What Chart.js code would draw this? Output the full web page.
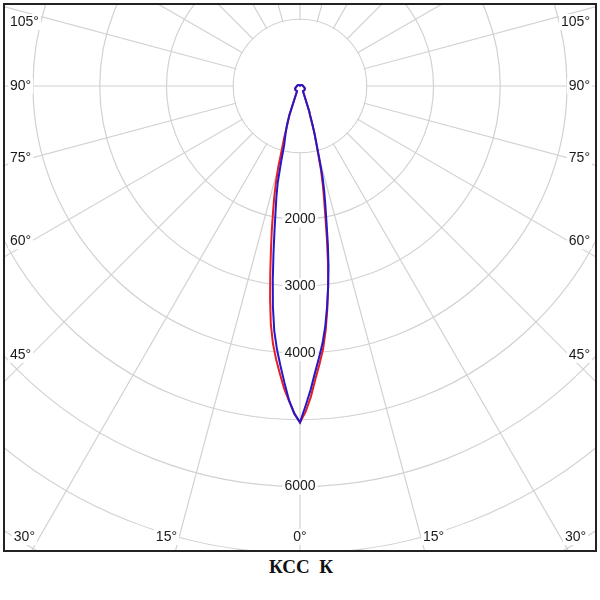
<!DOCTYPE html>
<html>
<head>
<meta charset="utf-8">
<script src="https://cdn.jsdelivr.net/npm/chart.js@4.4.0/dist/chart.umd.min.js"></script>
<style>
    html, body { margin: 0; padding: 0; background: #fff; }
    #frame { position: absolute; left: 3px; top: 3px; width: 590px; height: 545px; border: 2px solid #222; }
    #frame canvas { display: block; }
    #title { position: absolute; left: 0; top: 556px; width: 602px; text-align: center;
             font: bold 19px "Liberation Serif", "Times New Roman", serif; color: #111; white-space: pre; }
</style>
</head>
<body>
<div id="frame"><canvas id="kss" width="590" height="545"></canvas></div>
<div id="title">КСС  К</div>
<script>
// angles (degrees from the nadir) where the curves were read
const angle_deg = [0, 1, 2, 3, 4, 5, 6, 7, 8, 9, 10, 11, 12, 13, 14, 15, 16, 17, 18, 19, 20,
                   30, 40, 50, 60, 70, 80, 90, 100, 110, 120, 135, 150, 165, 180];

// luminous intensity, cd (red curve), left and right half
const c0_left  = [5040, 4900, 4720, 4540, 4320, 4110, 3880, 3590, 3220, 2850, 2510, 2220, 1950, 1720, 1490, 1260, 980, 810, 640, 530, 467,
                  90, 90, 90, 85, 70, 55, 45, 40, 35, 30, 20, 12, 8, 5];
const c0_right = [5040, 4880, 4660, 4400, 4180, 3960, 3680, 3360, 3030, 2680, 2320, 1990, 1740, 1520, 1300, 1040, 870, 740, 590, 460, 410,
                  90, 90, 90, 85, 70, 55, 45, 40, 35, 30, 20, 12, 8, 5];
// blue curve
const c90_left  = [5040, 4910, 4710, 4450, 4200, 3960, 3690, 3330, 2930, 2540, 2200, 1920, 1700, 1480, 1170, 910, 820, 730, 650, 560, 470,
                   90, 90, 90, 85, 70, 55, 45, 40, 35, 30, 20, 12, 8, 5];
const c90_right = [5040, 4790, 4555, 4300, 4080, 3870, 3620, 3330, 3030, 2730, 2400, 2080, 1830, 1610, 1390, 1110, 890, 740, 590, 460, 410,
                   90, 90, 90, 85, 70, 55, 45, 40, 35, 30, 20, 12, 8, 5];

const ring_labels = [2000, 3000, 4000, 6000];
const spoke_labels = [0, 15, 30, 45, 60, 75, 90, 105];

const center_x = 295, center_y = 81;    // pole inside the frame
const px_per_1000 = 66.75;
const r_max = 9000;
const grid_color = '#d2d2d2';
const label_font = '14px "Liberation Sans", Arial, sans-serif';

// one label per degree, the radar scale goes clockwise from the bottom
let labels = Array(360).fill(0).map((_, i) => i);

let build_series = function(left, right) {
    let out = Array(360).fill(null);
    angle_deg.forEach((a, i) => {
        out[a] = left[i];
        if (a > 0 && a < 180) out[360 - a] = right[i];
    });
    return out;
};

let draw_text = function(ctx, text, x, y, align) {
    let w = ctx.measureText(text).width;
    let left = align === 'left' ? x : align === 'right' ? x - w : x - w / 2;
    ctx.fillStyle = '#fff';
    ctx.fillRect(left - 2, y - 8, w + 4, 16);
    ctx.fillStyle = '#1a1a1a';
    ctx.textAlign = align;
    ctx.fillText(text, x, y);
};

const polar_labels = {
    id: 'polar_labels',
    beforeDatasetsDraw(chart) {
        let ctx = chart.ctx;
        let s = chart.scales.r;
        let cx = s.xCenter, cy = s.yCenter;
        let W = chart.width;
        ctx.save();
        // nothing inside the first ring
        ctx.fillStyle = '#fff';
        ctx.beginPath();
        ctx.arc(cx, cy, s.getDistanceFromCenterForValue(1000) - 0.7, 0, Math.PI * 2);
        ctx.fill();

        ctx.font = label_font;
        ctx.textBaseline = 'middle';
        ring_labels.forEach(v => {
            draw_text(ctx, String(v), cx, cy + s.getDistanceFromCenterForValue(v), 'center');
        });

        spoke_labels.forEach(a => {
            let text = a + '°';
            let w = ctx.measureText(text).width;
            [a, 360 - a].forEach((idx, side) => {
                if (a === 0 && side === 1) return;
                let p = s.getPointPosition(idx % 360, 1000);
                let dx = (p.x - cx) / 1000, dy = (p.y - cy) / 1000;
                if (a === 0) {
                    draw_text(ctx, text, cx, 532, 'center');
                } else if (a <= 30) {
                    let x = cx + dx * (540 - cy) / dy;
                    draw_text(ctx, text, x, 532, side === 0 ? 'right' : 'left');
                } else {
                    let edge = side === 0 ? 5 : W - 5;
                    let xc = side === 0 ? edge + w : edge - w;
                    let y = cy + dy * (xc - cx) / dx;
                    y = Math.max(y, 17);
                    draw_text(ctx, text, edge, y, side === 0 ? 'left' : 'right');
                }
            });
        });
        ctx.restore();
    }
};

let ctx = document.getElementById('kss').getContext('2d');
let chart = new Chart(ctx, {
    type: 'radar',
    data: {
        labels: labels,
        datasets: [{
            label: 'C90-C270',
            data: build_series(c90_left, c90_right),
            borderColor: 'rgb(38, 24, 200)',
        }, {
            label: 'C0-C180',
            data: build_series(c0_left, c0_right),
            borderColor: 'rgb(228, 30, 36)',
        }],
    },
    options: {
        responsive: false,
        animation: false,
        spanGaps: true,
        layout: { padding: 0 },
        plugins: { legend: { display: false }, tooltip: { enabled: false } },
        elements: {
            point: { radius: 0, hoverRadius: 0 },
            line: { borderWidth: 2, tension: 0, fill: false },
        },
        scales: {
            r: {
                min: 0,
                max: r_max,
                startAngle: 180,
                ticks: { display: false, stepSize: 1000 },
                pointLabels: { display: false },
                grid: { circular: true, color: grid_color, lineWidth: 1.2 },
                angleLines: {
                    color: grid_color,
                    lineWidth: (c) => (c.index % 15 === 0 ? 1.2 : 0),
                },
                afterFit: (scale) => {
                    scale.xCenter = center_x;
                    scale.yCenter = center_y;
                    scale.drawingArea = r_max / 1000 * px_per_1000;
                },
            },
        },
    },
    plugins: [polar_labels],
});
</script>
</body>
</html>
